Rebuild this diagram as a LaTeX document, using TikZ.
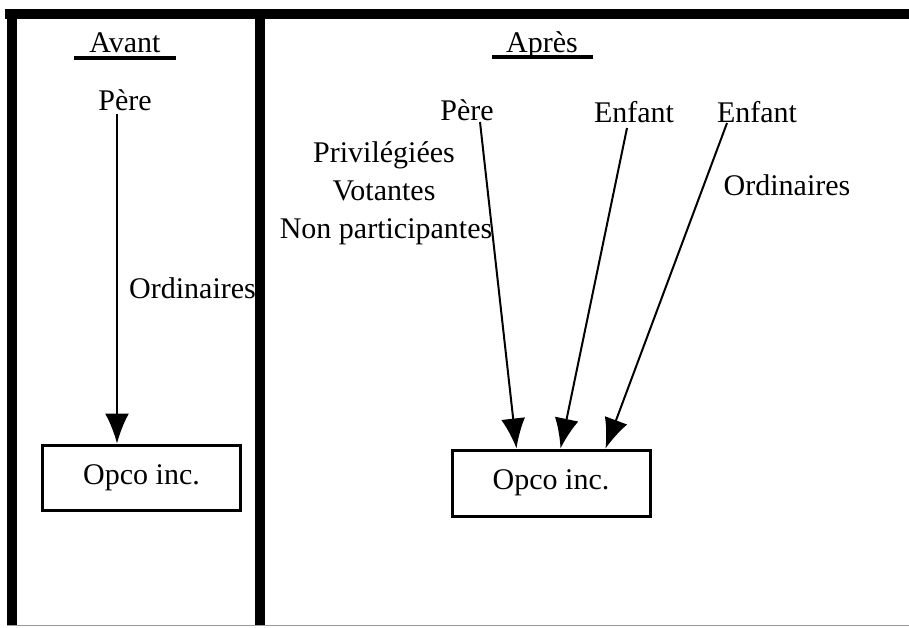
\documentclass[tikz,border=0pt]{standalone}
\usepackage{fontspec}
\setmainfont{Liberation Serif}
\usetikzlibrary{arrows.meta,calc}
\begin{document}
\begin{tikzpicture}[x=1pt,y=-1pt,
  lbl/.style={inner sep=0pt, font=\fontsize{30}{36}\selectfont},
  opbox/.style={draw, line width=3pt, minimum width=198pt, minimum height=65pt, inner sep=0pt, font=\fontsize{30}{36}\selectfont},
  arr/.style={line width=2pt, -{Latex[length=30pt,width=24pt]}},
  uline/.style={line width=4pt},
  bar/.style={fill=black},
  bottomline/.style={draw=black!40, line width=1.5pt}]
\useasboundingbox (0,0) rectangle (909,627);
% frame
\fill[bar] (5,9) rectangle (909,19);
\fill[bar] (7,9) rectangle (17,626);
\fill[bar] (255,14) rectangle (265,626);
\draw[bottomline] (7,625.5) -- (909,625.5);
% left part
\node[lbl, anchor=base] (avant) at (125,52) {Avant};
\draw[uline] ($(avant.base west)+(-15,6)$) -- ($(avant.base east)+(15,6)$);
\node[lbl, anchor=base] (pereA) at (125,110) {Père};
\node[lbl, anchor=base west] (ordA) at (129,298) {Ordinaires};
\node[opbox] (boxA) at (141.5,477.5) {Opco inc.};
\coordinate (la) at (117,0);
\draw[arr] ($(la |- pereA.south)+(0,4)$) -- (la |- boxA.north);
% right part
\node[lbl, anchor=base] (apres) at (542,52) {Après};
\draw[uline] ($(apres.base west)+(-14,5)$) -- ($(apres.base east)+(15,5)$);
\node[lbl, anchor=base] (pereB) at (467,120) {Père};
\node[lbl, anchor=base] (enf1) at (634,122) {Enfant};
\node[lbl, anchor=base] (enf2) at (757,122) {Enfant};
\node[lbl, anchor=base] (priv) at (384,162) {Privilégiées};
\node[lbl, anchor=base] (vot) at (384,200) {Votantes};
\node[lbl, anchor=base] (nonp) at (386,238) {Non participantes};
\node[lbl, anchor=base] (ordB) at (787,195) {Ordinaires};
\node[opbox, minimum height=66pt] (boxB) at (551,483) {Opco inc.};
\draw[arr] ($(pereB.base)+(13,2)$) -- ($(boxB.north west)+(66,0)$);
\draw[arr] ($(enf1.base)+(-7,6)$) -- ($(boxB.north west)+(110,0)$);
\draw[arr] ($(enf2.base)+(-30,1)$) -- ($(boxB.north west)+(155,0)$);
\end{tikzpicture}
\end{document}
